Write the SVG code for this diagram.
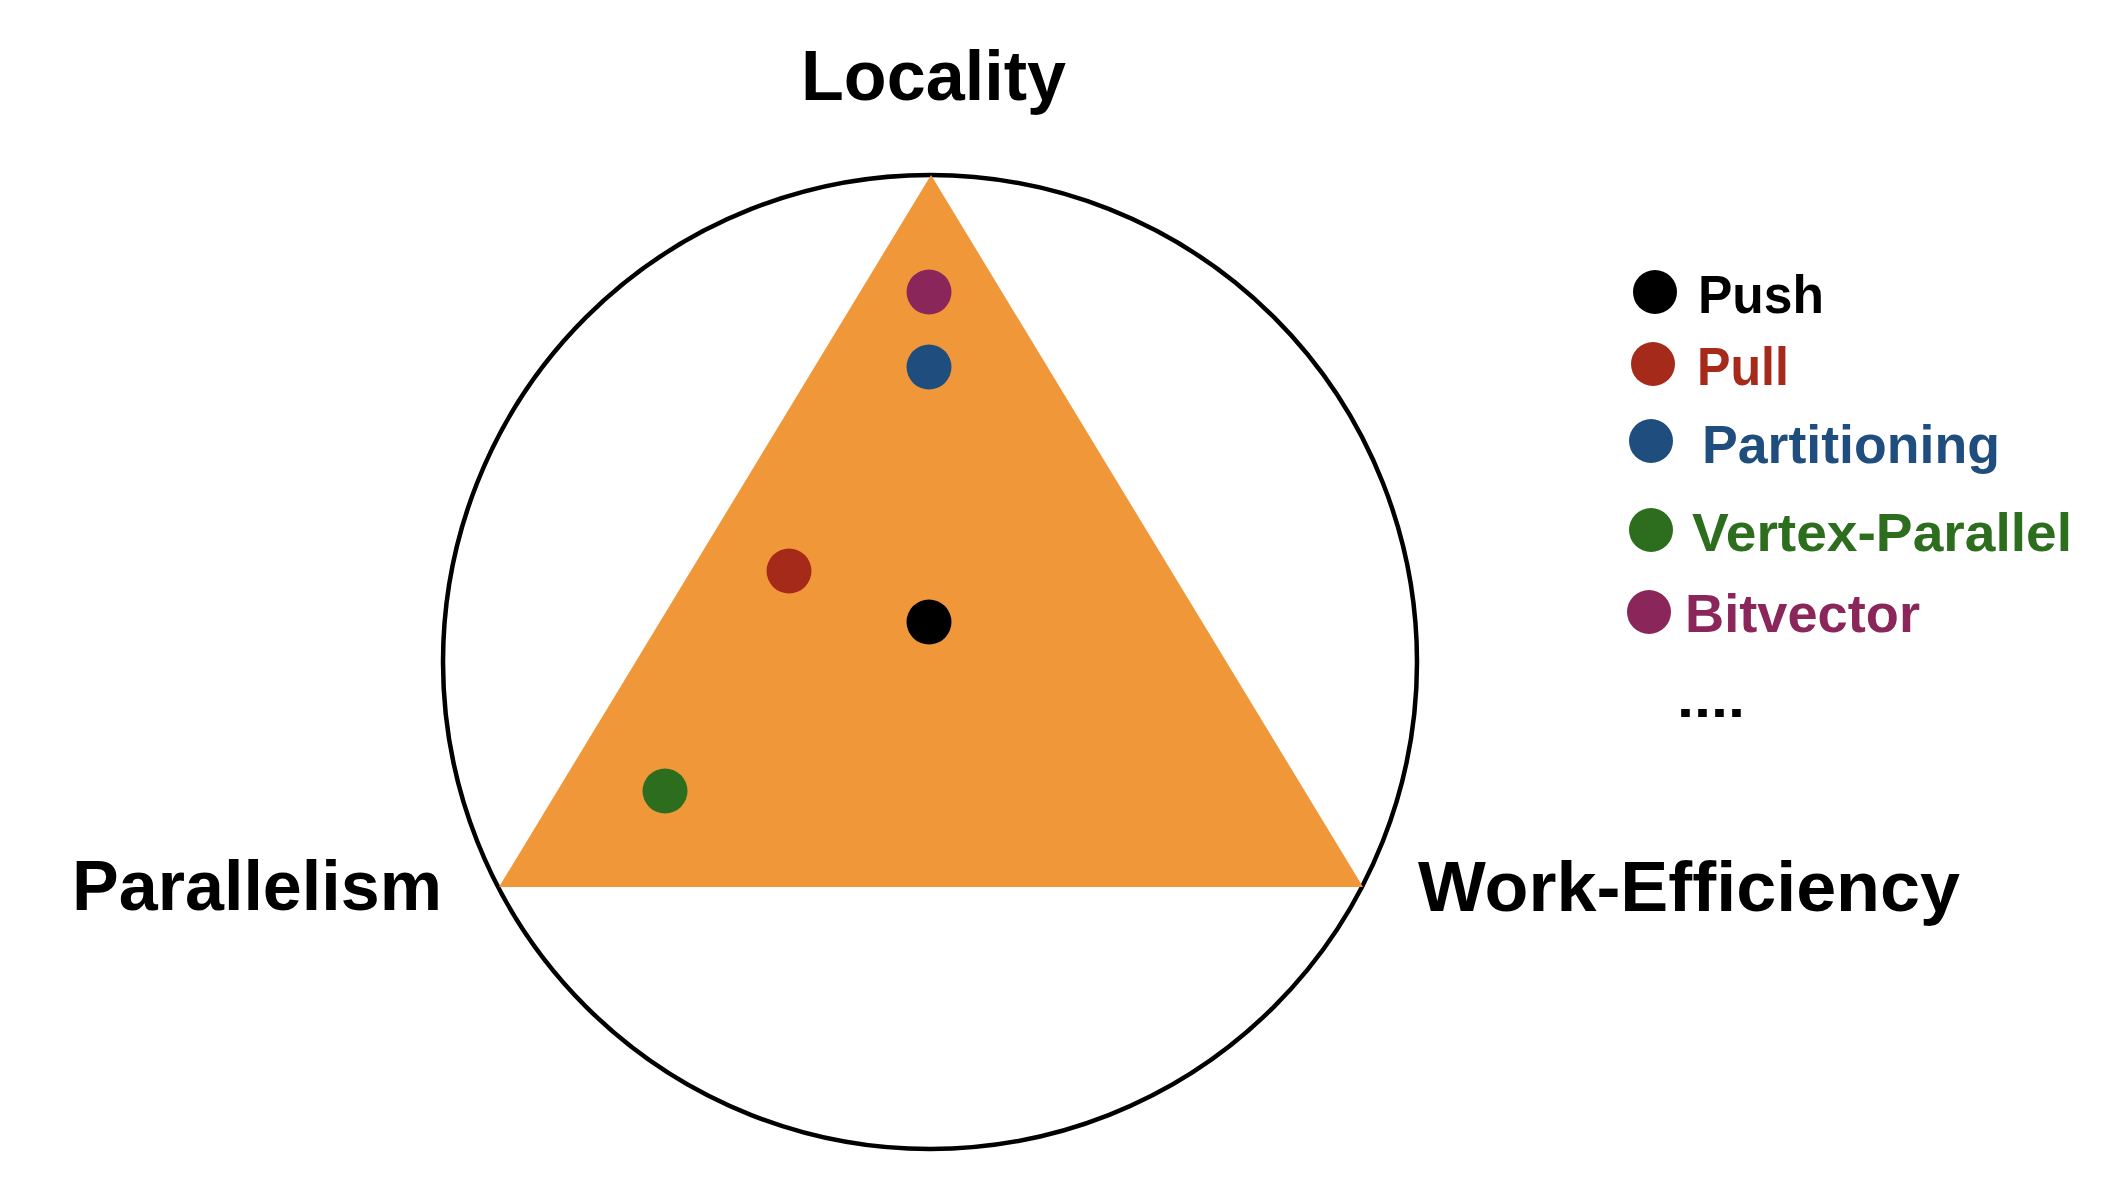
<svg xmlns="http://www.w3.org/2000/svg" width="2106" height="1194" viewBox="0 0 2106 1194">
<style>
text{font-family:"Liberation Sans",Arial,sans-serif;font-weight:bold}
.big{font-size:71px;fill:#000}
.leg{font-size:53px}
</style>
<rect width="2106" height="1194" fill="#fff"/>
<g id="circle"><circle cx="930" cy="662" r="487" fill="none" stroke="#000" stroke-width="4.5"/></g>
<g id="triangle"><polygon points="931,175 499,887 1363,887" fill="#f09839"/></g>
<g id="points">
<circle id="p-bitvector" cx="929" cy="292" r="22.5" fill="#8a2659"/>
<circle id="p-partitioning" cx="929" cy="367" r="22.5" fill="#1f4d7d"/>
<circle id="p-pull" cx="789" cy="571" r="22.5" fill="#a62a1a"/>
<circle id="p-push" cx="929" cy="622" r="22.5" fill="#000"/>
<circle id="p-vertex" cx="665" cy="791" r="22.5" fill="#2d6e1e"/>
</g>
<g id="labels">
<text class="big" x="801" y="100" textLength="265" lengthAdjust="spacingAndGlyphs">Locality</text>
<text class="big" x="72" y="910" textLength="370" lengthAdjust="spacingAndGlyphs">Parallelism</text>
<text class="big" x="1418" y="911" textLength="542" lengthAdjust="spacingAndGlyphs">Work-Efficiency</text>
</g>
<g id="legend">
<circle cx="1655" cy="292" r="22" fill="#000"/>
<text class="leg" x="1698" y="313" fill="#000" textLength="126" lengthAdjust="spacingAndGlyphs">Push</text>
<circle cx="1653" cy="364" r="22" fill="#a62a1a"/>
<text class="leg" x="1697" y="385" fill="#a62a1a" textLength="92" lengthAdjust="spacingAndGlyphs">Pull</text>
<circle cx="1651" cy="441" r="22" fill="#1f4d7d"/>
<text class="leg" x="1702" y="463" fill="#1f4d7d" textLength="298" lengthAdjust="spacingAndGlyphs">Partitioning</text>
<circle cx="1651" cy="530" r="22" fill="#2d6e1e"/>
<text class="leg" x="1692" y="551" fill="#2d6e1e" textLength="380" lengthAdjust="spacingAndGlyphs">Vertex-Parallel</text>
<circle cx="1649" cy="612" r="22" fill="#8a2659"/>
<text class="leg" x="1685" y="632" fill="#8a2659" textLength="235" lengthAdjust="spacingAndGlyphs">Bitvector</text>
<text class="leg" x="1677" y="717" fill="#000" textLength="68" lengthAdjust="spacingAndGlyphs">....</text>
</g>
</svg>
